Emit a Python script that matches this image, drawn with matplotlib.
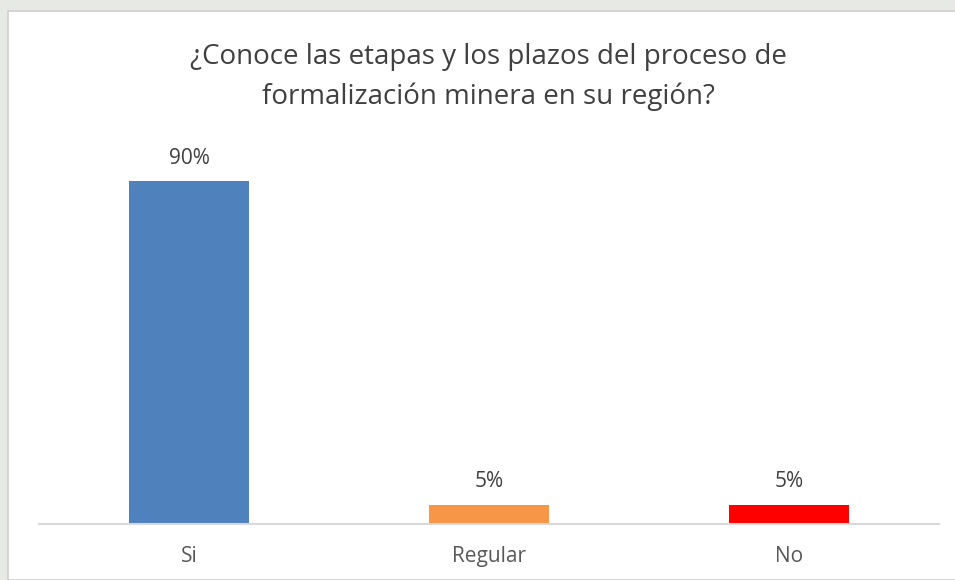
import matplotlib.pyplot as plt
from matplotlib.patches import Rectangle

categories = ["Si", "Regular", "No"]
values = [90, 5, 5]
bar_colors = ["#4F81BD", "#F79646", "#FF0000"]
title = "¿Conoce las etapas y los plazos del proceso de\nformalización minera en su región?"

W, H = 955, 580
fig = plt.figure(figsize=(W / 100, H / 100), dpi=100)
fig.patch.set_facecolor("#E6E9E4")

# chart frame (white box with light border), kept behind the axes
fig.patches.append(Rectangle((8 / W, 0), 1.0, 1 - 11 / H, transform=fig.transFigure,
                             facecolor="white", edgecolor="#D0D0D0", lw=1.2, zorder=-5))

# plot area: x 39..939, y 143..524 (pixels from top)
ax = fig.add_axes([39 / W, 1 - 524 / H, 900 / W, 381 / H])
ax.set_facecolor("none")
x = range(len(categories))
bars = ax.bar(x, values, width=0.4, color=bar_colors, zorder=2)
ax.set_xlim(-0.5, len(categories) - 0.5)
ax.set_ylim(0, 100)

for b, v in zip(bars, values):
    ax.annotate(f"{v}%", (b.get_x() + b.get_width() / 2, v), xytext=(0, 9),
                textcoords="offset points", ha="center", va="bottom",
                fontsize=15, color="#404040", family="Open Sans")

for s in ["top", "right", "left"]:
    ax.spines[s].set_visible(False)
ax.spines["bottom"].set_color("#D9D9D9")
ax.spines["bottom"].set_linewidth(1.5)
ax.set_yticks([])
ax.set_xticks(list(x))
ax.set_xticklabels(categories, fontsize=15, color="#595959", family="Open Sans")
ax.tick_params(axis="x", length=0, pad=16)

fig.text(488 / W, 1 - 77 / H, title, ha="center", va="center", fontsize=20,
         color="#404040", family="Open Sans", linespacing=1.55)

fig.savefig("out.png", dpi=100)
